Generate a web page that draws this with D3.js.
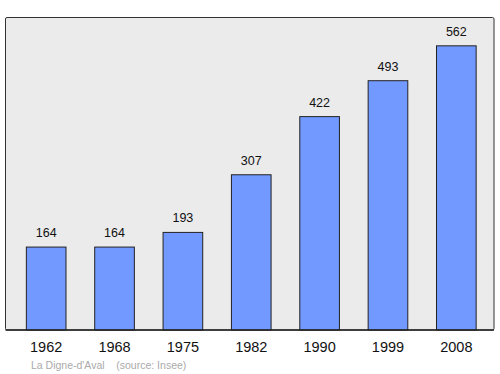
<!DOCTYPE html>
<html><head><meta charset="utf-8">
<script src="https://cdn.jsdelivr.net/npm/d3@7"></script>
<style>body{margin:0;background:#fff}svg{display:block;font-family:"Liberation Sans",Arial,sans-serif}</style>
</head><body>
<script>
const years = ["1962","1968","1975","1982","1990","1999","2008"];
const population = [164,164,193,307,422,493,562];
const sourceText = "La Digne-d'Aval\u00a0\u00a0\u00a0\u00a0(source: Insee)";

const W = 500, H = 374;
const frame = {x0: 5.5, y0: 17.5, x1: 494, y1: 330};
const svg = d3.select("body").append("svg").attr("width", W).attr("height", H);

svg.append("rect").attr("x", frame.x0).attr("y", frame.y0)
  .attr("width", frame.x1 - frame.x0).attr("height", frame.y1 - frame.y0)
  .attr("rx", 1.5).attr("fill", "#ebebeb").attr("stroke", "#333").attr("stroke-width", 1);

const x = d3.scaleBand().domain(years).range([5.5, 497]).paddingInner(0.42).paddingOuter(0.305);
const y = d3.scaleLinear().domain([0, 618]).range([frame.y1, frame.y0]);

svg.selectAll("rect.bar").data(years).enter().append("rect").attr("class", "bar")
  .attr("x", d => x(d)).attr("width", x.bandwidth())
  .attr("y", (d, i) => y(population[i])).attr("height", (d, i) => y(0) - y(population[i]))
  .attr("fill", "#7299ff").attr("stroke", "#222").attr("stroke-width", 1);

svg.selectAll("text.val").data(years).enter().append("text").attr("class", "val")
  .attr("x", d => x(d) + x.bandwidth() / 2).attr("y", (d, i) => y(population[i]) - 10)
  .attr("text-anchor", "middle").attr("font-size", 12.5).attr("fill", "#111")
  .text((d, i) => population[i]);

svg.append("line").attr("x1", frame.x0).attr("x2", frame.x1).attr("y1", frame.y1).attr("y2", frame.y1)
  .attr("stroke", "#222").attr("stroke-width", 1.5);

const axis = d3.axisBottom(x).tickSize(0).tickPadding(0);
const g = svg.append("g").attr("transform", `translate(0,${frame.y1})`).call(axis);
g.select(".domain").remove();
g.selectAll("text").attr("font-size", 14.5).attr("fill", "#111")
  .attr("font-family", "'Liberation Sans',Arial,sans-serif").attr("dy", null).attr("y", 22);

svg.append("text").attr("x", 31).attr("y", 369).attr("font-size", 10.5).attr("fill", "#aaa")
  .text(sourceText);
</script>
</body></html>
